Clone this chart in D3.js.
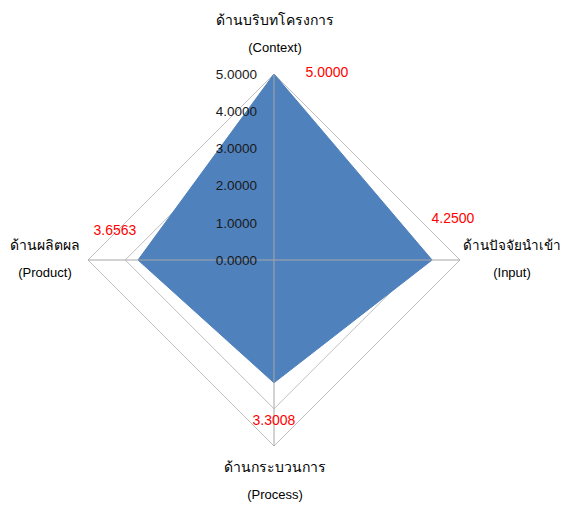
<!DOCTYPE html>
<html>
<head>
<meta charset="utf-8">
<script src="https://cdn.jsdelivr.net/npm/d3@7"></script>
<style>
  body { margin: 0; background: #fff; }
  text { font-family: "Liberation Sans", Arial, sans-serif; }
</style>
</head>
<body>
<svg id="svg" width="569" height="506"></svg>
<script>
// chart data
let axisNamesTh = ['ด้านบริบทโครงการ', 'ด้านปัจจัยนำเข้า', 'ด้านกระบวนการ', 'ด้านผลิตผล'];
let axisNamesEn = ['(Context)', '(Input)', '(Process)', '(Product)'];
let scores = [5.0, 4.25, 3.3008, 3.6563];
let tickValues = [0, 1, 2, 3, 4, 5];

let svg = d3.select('#svg');

let cx = 274, cy = 260;
let radius = 186;

let rScale = d3.scaleLinear().domain([0, 5]).range([0, radius]);

// angle for each axis, top first then clockwise
let angle = (i) => i * Math.PI / 2;
let pt = (i, v) => [cx + rScale(v) * Math.sin(angle(i)), cy - rScale(v) * Math.cos(angle(i))];

let line = d3.line();

// grid diamonds
tickValues.filter(d => d > 0).forEach((t) => {
    let pts = scores.map((s, i) => pt(i, t));
    svg.append('path')
        .attr('d', line(pts) + 'Z')
        .attr('fill', 'none')
        .attr('stroke', '#bfbfbf')
        .attr('stroke-width', 1);
});

// data polygon
svg.append('path')
    .attr('d', line(scores.map((s, i) => pt(i, s))) + 'Z')
    .attr('fill', '#4f81bd')
    .attr('stroke', '#4f81bd')
    .attr('stroke-width', 1);

// axis spokes
scores.forEach((s, i) => {
    let end = pt(i, 5);
    svg.append('line')
        .attr('x1', cx).attr('y1', cy)
        .attr('x2', end[0]).attr('y2', end[1])
        .attr('stroke', '#a6a6a6')
        .attr('stroke-width', 1);
});

// tick labels along the top spoke
svg.append('g')
    .selectAll('text')
    .data(tickValues)
    .join('text')
    .attr('x', cx - 17)
    .attr('y', d => cy - rScale(d))
    .attr('dy', '0.35em')
    .attr('text-anchor', 'end')
    .attr('font-size', '13.5px')
    .attr('fill', '#1a1a1a')
    .text(d => d.toFixed(4));

// value labels (red), placed near the outer end of each spoke
let valueDx = [53, -7, 0, 27];
let valueDy = [-2, -42, -26, -30];
svg.append('g')
    .selectAll('text')
    .data(scores)
    .join('text')
    .attr('x', (d, i) => pt(i, 5)[0] + valueDx[i])
    .attr('y', (d, i) => pt(i, 5)[1] + valueDy[i])
    .attr('dy', '0.35em')
    .attr('text-anchor', 'middle')
    .attr('font-size', '14px')
    .attr('fill', '#ff0000')
    .text(d => d.toFixed(4));

// axis names
let namePos = [[275, 20, 47], [512, 245, 272], [275, 467, 494], [45, 245, 272]];
axisNamesTh.forEach((name, i) => {
    svg.append('text')
        .attr('x', namePos[i][0])
        .attr('y', namePos[i][1])
        .attr('dy', '0.35em')
        .attr('text-anchor', 'middle')
        .attr('font-size', i == 1 ? '13.5px' : '14px')
        .attr('fill', '#000')
        .text(name);
    svg.append('text')
        .attr('x', namePos[i][0])
        .attr('y', namePos[i][2])
        .attr('dy', '0.35em')
        .attr('text-anchor', 'middle')
        .attr('font-size', '13px')
        .attr('fill', '#000')
        .text(axisNamesEn[i]);
});
</script>
</body>
</html>
